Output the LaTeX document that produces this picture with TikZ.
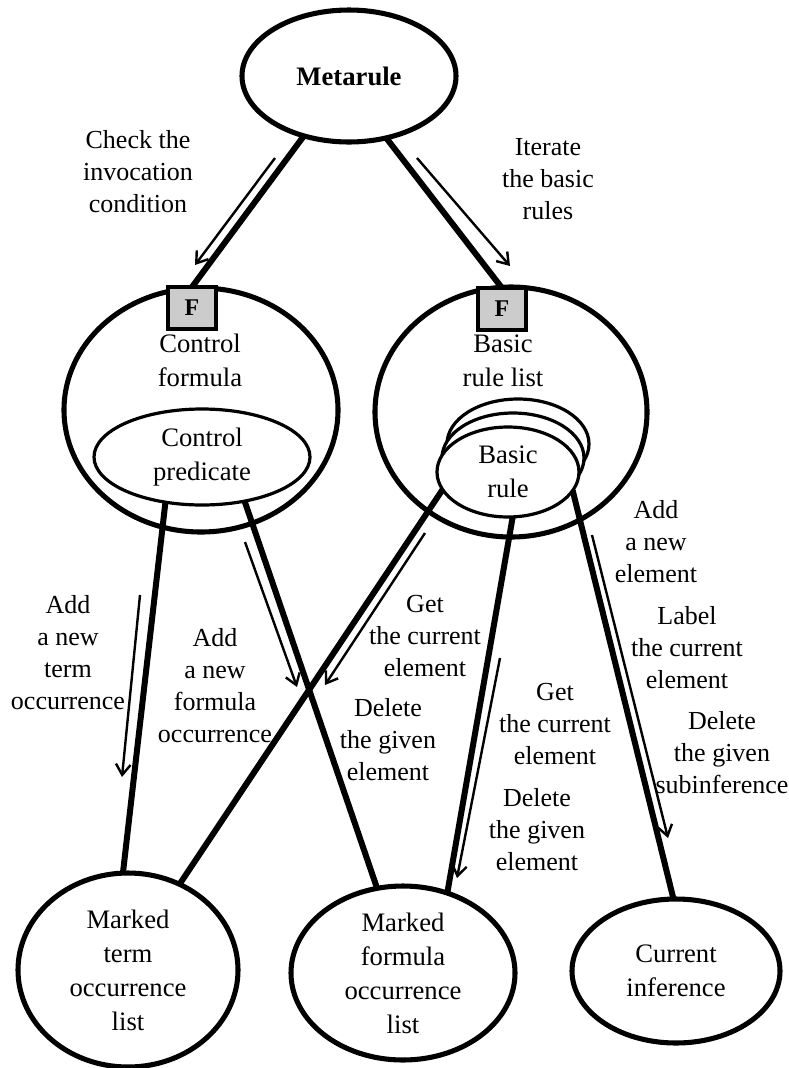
\documentclass[tikz,border=0pt]{standalone}
\usepackage{fontspec}
\setmainfont{Liberation Serif}
\usetikzlibrary{shapes.geometric,arrows.meta}
\begin{document}
\begin{tikzpicture}[x=0.75pt,y=-0.75pt,
 big/.style={draw, ellipse, line width=3.8pt, inner sep=0pt, outer sep=0pt},
 small/.style={draw, ellipse, line width=2.4pt, fill=white, inner sep=0pt, outer sep=0pt},
 ntext/.style={align=center, font=\fontsize{20}{25.5}\selectfont, inner sep=0pt},
 lbl/.style={align=center, font=\fontsize{19.5}{24}\selectfont, inner sep=0pt},
 conn/.style={line width=4.5pt},
 flow/.style={line width=1.8pt, -{Straight Barb[length=8pt,width=11pt,line width=1.8pt]}},
 fbox/.style={draw, line width=2.5pt, fill=gray!40, minimum width=36pt, minimum height=31.5pt, inner sep=0pt, outer sep=0pt, font=\bfseries\fontsize{18}{18}\selectfont}
]
\useasboundingbox (0,0) rectangle (789,1068);

% main nodes
\node[big, minimum width=160.5pt, minimum height=99pt, font=\bfseries\fontsize{20}{24}\selectfont] (meta) at (349,76) {Metarule};
\node[big, minimum width=205.5pt, minimum height=183pt] (cf) at (201,410) {};
\node[big, minimum width=204pt, minimum height=187.5pt] (brl) at (511,412) {};
\node[ntext] (cftext) at (200,360) {Control\\formula};
\node[ntext] (brltext) at (503,361) {Basic\\rule list};
\node[small, ntext, minimum width=162pt, minimum height=72pt] (cp) at (202,457) {Control\\predicate};
\node[small, minimum width=106.5pt, minimum height=67.5pt] (br3) at (518,444) {};
\node[small, minimum width=106.5pt, minimum height=67.5pt] (br2) at (513,458) {};
\node[small, ntext, minimum width=106.5pt, minimum height=67.5pt] (br) at (508,472) {Basic\\rule};
\node[fbox] (fl) at (192,308) {F};
\node[fbox] (fr) at (502,309) {F};

\node[big, ntext, minimum width=165pt, minimum height=145.5pt] (mt) at (128,970) {Marked\\term\\occurrence\\list};
\node[big, ntext, minimum width=168pt, minimum height=130.5pt] (mf) at (403,973) {Marked\\formula\\occurrence\\list};
\node[big, ntext, minimum width=156pt, minimum height=108pt] (ci) at (676,971) {Current\\inference};

% connectors
\draw[conn] (meta.233) -- (fl.north);
\draw[conn] (meta.301) -- (fr.north);
\draw[conn] (cp.231) -- (mt.93.5);
\draw[conn] (cp.314) -- (mf.107);
\draw[conn] (br.195) -- (mt.59);
\draw[conn] (br.276) -- (mf.61);
\draw[conn] (br.344.5) -- (ci.92.5);

% flow arrows
\coordinate (a1s) at (275,158); \coordinate (a1e) at (195,265);
\coordinate (a2s) at (417,158); \coordinate (a2e) at (510,266);
\coordinate (a3s) at (140,595); \coordinate (a3e) at (122,777);
\coordinate (a4s) at (245,542); \coordinate (a4e) at (297,687);
\coordinate (a5s) at (425,533); \coordinate (a5e) at (325,685);
\coordinate (a6s) at (500,658); \coordinate (a6e) at (457,878);
\coordinate (a7s) at (592,535); \coordinate (a7e) at (668,838);
\draw[flow] (a1s) -- (a1e);
\draw[flow] (a2s) -- (a2e);
\draw[flow] (a3s) -- (a3e);
\draw[flow] (a4s) -- (a4e);
\draw[flow] (a5s) -- (a5e);
\draw[flow] (a6s) -- (a6e);
\draw[flow] (a7s) -- (a7e);

% labels
\node[lbl] (l1) at (138,172) {Check the\\invocation\\condition};
\node[lbl] (l2) at (548,179) {Iterate\\the basic\\rules};
\node[lbl] (l3) at (68,653) {Add\\a new\\term\\occurrence};
\node[lbl] (l4) at (215,686) {Add\\a new\\formula\\occurrence};
\node[lbl] (l5) at (425,636) {Get\\the current\\element};
\node[lbl] (l6) at (388,740) {Delete\\the given\\element};
\node[lbl] (l7) at (555,724) {Get\\the current\\element};
\node[lbl] (l8) at (537,830) {Delete\\the given\\element};
\node[lbl] (l9) at (656,542) {Add\\a new\\element};
\node[lbl] (l10) at (687,648) {Label\\the current\\element};
\node[lbl] (l11) at (722,753) {Delete\\the given\\subinference};
\end{tikzpicture}
\end{document}
